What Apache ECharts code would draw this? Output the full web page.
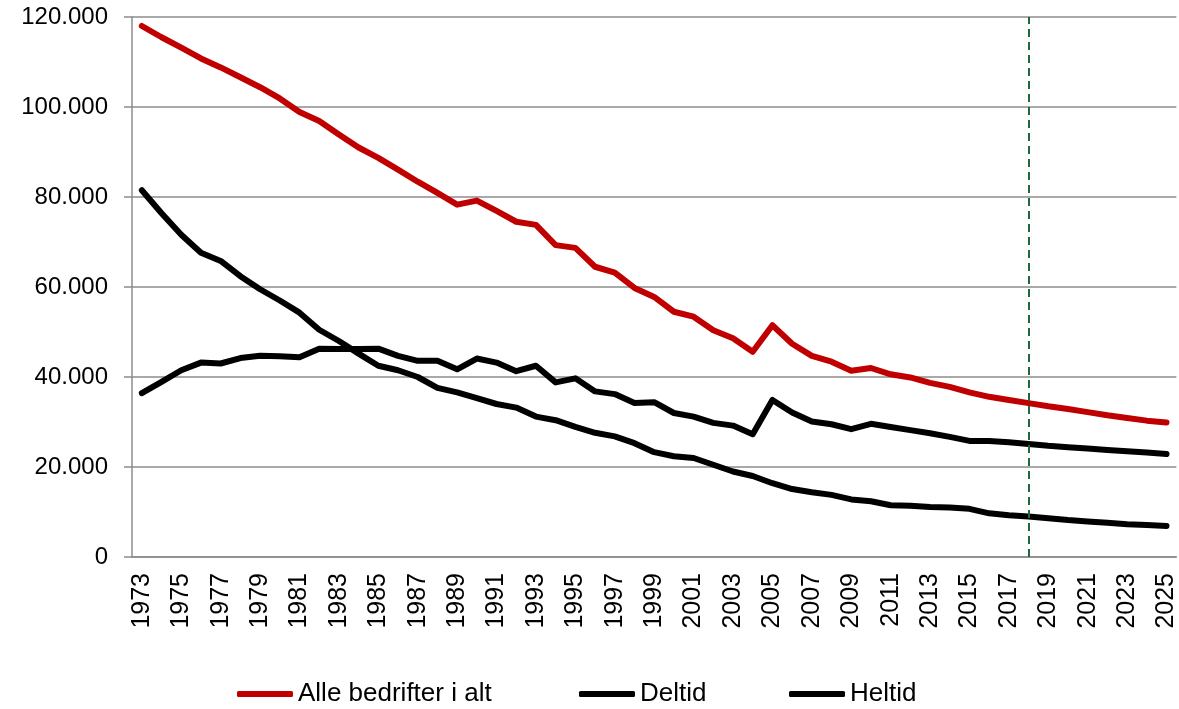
<!DOCTYPE html>
<html>
<head>
<meta charset="utf-8">
<script src="https://cdn.jsdelivr.net/npm/echarts@6/dist/echarts.min.js"></script>
<style>
  html, body { margin: 0; padding: 0; background: #fff; }
  #main { width: 1179px; height: 709px; }
</style>
</head>
<body>
<div id="main"></div>
<script>
// årstall på x-aksen
var years = ['1973','1974','1975','1976','1977','1978','1979','1980','1981','1982',
  '1983','1984','1985','1986','1987','1988','1989','1990','1991','1992',
  '1993','1994','1995','1996','1997','1998','1999','2000','2001','2002',
  '2003','2004','2005','2006','2007','2008','2009','2010','2011','2012',
  '2013','2014','2015','2016','2017','2018','2019','2020','2021','2022',
  '2023','2024','2025'];

var alleBedrifter = [118000,115500,113200,110800,108800,106600,104400,101900,98900,96900,
  93900,91000,88700,86100,83400,80900,78300,79200,76900,74500,
  73800,69300,68700,64500,63200,59800,57800,54500,53400,50400,
  48600,45600,51500,47400,44700,43400,41400,42000,40600,39900,
  38700,37800,36600,35600,34900,34200,33500,32900,32200,31500,
  30900,30300,29900];

var deltid = [36400,38900,41500,43200,43000,44200,44700,44600,44400,46300,
  46200,46200,46300,44700,43600,43600,41700,44100,43200,41300,
  42500,38800,39700,36800,36200,34200,34400,32000,31200,29800,
  29200,27300,34900,32100,30100,29500,28400,29600,28900,28200,
  27500,26700,25800,25800,25500,25100,24700,24400,24100,23800,
  23500,23200,22900];

var heltid = [81500,76400,71600,67600,65800,62400,59500,57000,54300,50500,
  48000,45200,42500,41500,40000,37600,36600,35300,34000,33200,
  31200,30400,28900,27600,26800,25300,23300,22400,22000,20500,
  19000,18000,16400,15100,14400,13800,12800,12400,11500,11400,
  11100,11000,10700,9700,9300,9000,8600,8200,7900,7600,
  7300,7100,6900];

var markYear = '2018'; // siste år med tall, deretter framskriving

var font = 'Liberation Sans, Arial, sans-serif';
var gray = '#8c8c8c';

var chart = echarts.init(document.getElementById('main'));

function legendAt(name, left) {
    return {
        data: [name],
        left: left,
        top: 676,
        icon: 'roundRect',
        itemWidth: 56,
        itemHeight: 6,
        textStyle: { fontFamily: font, fontSize: 26, color: '#000' }
    };
}

var option = {
    animation: false,
    grid: { left: 132, right: 2, top: 17, bottom: 152, containLabel: false },
    legend: [
        legendAt('Alle bedrifter i alt', 232),
        legendAt('Deltid', 574),
        legendAt('Heltid', 784)
    ],
    xAxis: {
        type: 'category',
        data: years,
        boundaryGap: true,
        axisLine: { lineStyle: { color: gray, width: 1.5 } },
        axisTick: { interval: 0, length: 7, lineStyle: { color: gray, width: 1.5 } },
        axisLabel: {
            interval: 1,
            rotate: 90,
            margin: 16,
            fontFamily: font,
            fontSize: 25,
            color: '#000'
        },
        splitLine: { show: false }
    },
    yAxis: {
        type: 'value',
        min: 0,
        max: 120000,
        interval: 20000,
        axisLine: { show: true, lineStyle: { color: gray, width: 1.5 } },
        axisTick: { show: true, inside: false, length: 8, lineStyle: { color: gray, width: 1.5 } },
        axisLabel: {
            margin: 24,
            fontFamily: font,
            fontSize: 24,
            color: '#000',
            formatter: function (v) {
                return String(v).replace(/\B(?=(\d{3})+(?!\d))/g, '.');
            }
        },
        splitLine: { lineStyle: { color: gray, width: 1.5 } }
    },
    series: [
        {
            name: 'Alle bedrifter i alt',
            type: 'line',
            data: alleBedrifter,
            symbol: 'none',
            lineStyle: { color: '#c00000', width: 6, cap: 'round', join: 'round' },
            itemStyle: { color: '#c00000' },
            markLine: {
                silent: true,
                symbol: ['none', 'none'],
                label: { show: false },
                lineStyle: { color: '#1d6a3c', width: 2, type: [8, 5] },
                data: [{ xAxis: markYear }]
            },
            z: 3
        },
        {
            name: 'Deltid',
            type: 'line',
            data: deltid,
            symbol: 'none',
            lineStyle: { color: '#000', width: 6, cap: 'round', join: 'round' },
            itemStyle: { color: '#000' }
        },
        {
            name: 'Heltid',
            type: 'line',
            data: heltid,
            symbol: 'none',
            lineStyle: { color: '#000', width: 6, cap: 'round', join: 'round' },
            itemStyle: { color: '#000' }
        }
    ]
};

chart.setOption(option);
</script>
</body>
</html>
